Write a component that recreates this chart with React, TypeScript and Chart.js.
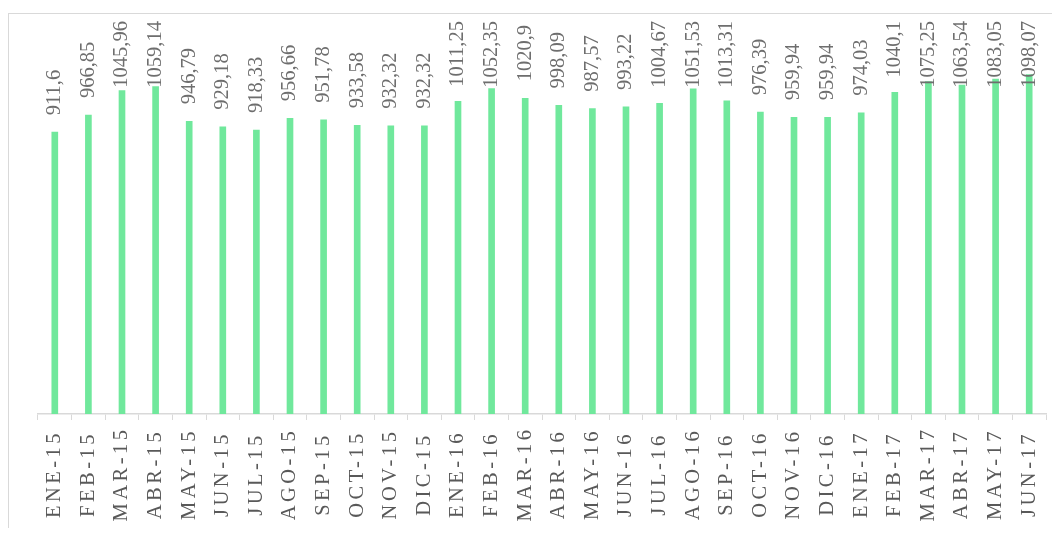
import React, { useEffect, useRef } from "react";
import { Chart, registerables } from "chart.js";

Chart.register(...registerables);

const categories = [
  "ENE-15", "FEB-15", "MAR-15", "ABR-15", "MAY-15", "JUN-15", "JUL-15", "AGO-15", "SEP-15", "OCT-15", "NOV-15", "DIC-15",
  "ENE-16", "FEB-16", "MAR-16", "ABR-16", "MAY-16", "JUN-16", "JUL-16", "AGO-16", "SEP-16", "OCT-16", "NOV-16", "DIC-16",
  "ENE-17", "FEB-17", "MAR-17", "ABR-17", "MAY-17", "JUN-17",
];

const values = [
  911.6, 966.85, 1045.96, 1059.14, 946.79, 929.18, 918.33, 956.66, 951.78, 933.58, 932.32, 932.32,
  1011.25, 1052.35, 1020.9, 998.09, 987.57, 993.22, 1004.67, 1051.53, 1013.31, 976.39, 959.94, 959.94,
  974.03, 1040.1, 1075.25, 1063.54, 1083.05, 1098.07,
];

const FONT = '"Liberation Serif", "Times New Roman", serif';

const valueLabelPlugin = {
  id: "valueLabels",
  afterDatasetsDraw(chart: any) {
    const ctx = chart.ctx;
    const meta = chart.getDatasetMeta(0);
    ctx.save();
    ctx.font = `20.5px ${FONT}`;
    ctx.fillStyle = "#6e6e6e";
    ctx.textAlign = "left";
    ctx.textBaseline = "middle";
    meta.data.forEach((bar: any, i: number) => {
      const text = String(values[i]).replace(".", ",");
      const w = ctx.measureText(text).width;
      let bottom = bar.y - 17;
      let top = bottom - w;
      if (top < 13) {
        top = 13;
        bottom = top + w;
      }
      ctx.save();
      ctx.translate(bar.x, bottom);
      ctx.rotate(-Math.PI / 2);
      ctx.fillText(text, 0, 0);
      ctx.restore();
    });
    ctx.restore();
  },
};

const xLabelPlugin = {
  id: "xLabels",
  afterDraw(chart: any) {
    const ctx = chart.ctx;
    const xs = chart.scales.x;
    ctx.save();
    ctx.font = `20.5px ${FONT}`;
    ctx.fillStyle = "#595959";
    ctx.textAlign = "center";
    ctx.textBaseline = "middle";
    try {
      (ctx as any).letterSpacing = "3.5px";
    } catch (e) {}
    categories.forEach((label, i) => {
      const x = xs.getPixelForValue(i);
      ctx.save();
      ctx.translate(x, 466);
      ctx.rotate(-Math.PI / 2);
      ctx.fillText(label, 0, 0);
      ctx.restore();
    });
    ctx.restore();
  },
};

export default function App() {
  const canvasRef = useRef<HTMLCanvasElement | null>(null);

  useEffect(() => {
    if (!canvasRef.current) return;
    const chart = new Chart(canvasRef.current, {
      type: "bar",
      data: {
        labels: categories,
        datasets: [
          {
            data: values,
            backgroundColor: "#70E89C",
            borderWidth: 0,
            barThickness: 6,
          },
        ],
      },
      options: {
        animation: false,
        responsive: true,
        maintainAspectRatio: false,
        layout: { padding: { left: 30, right: 14, top: 35, bottom: 108 } },
        plugins: {
          legend: { display: false },
          tooltip: { enabled: false },
        },
        scales: {
          x: {
            offset: true,
            grid: {
              display: true,
              drawOnChartArea: false,
              drawTicks: true,
              tickLength: 6,
              tickColor: "#d9d9d9",
              offset: true,
            },
            border: { display: true, color: "#d9d9d9", width: 1.5 },
            ticks: { display: false },
          },
          y: {
            display: false,
            min: 0,
            max: 1200,
          },
        },
      },
      plugins: [valueLabelPlugin, xLabelPlugin],
    });
    return () => chart.destroy();
  }, []);

  return (
    <div style={{ position: "relative", width: 1052, height: 520, overflow: "hidden" }}>
      <div
        style={{
          position: "absolute",
          left: 0,
          top: 5,
          width: 1200,
          height: 800,
          border: "1px solid #d9d9d9",
          boxSizing: "border-box",
        }}
      />
      <div style={{ position: "absolute", left: 0, top: 0, width: 1052, height: 520 }}>
        <canvas ref={canvasRef} />
      </div>
    </div>
  );
}
